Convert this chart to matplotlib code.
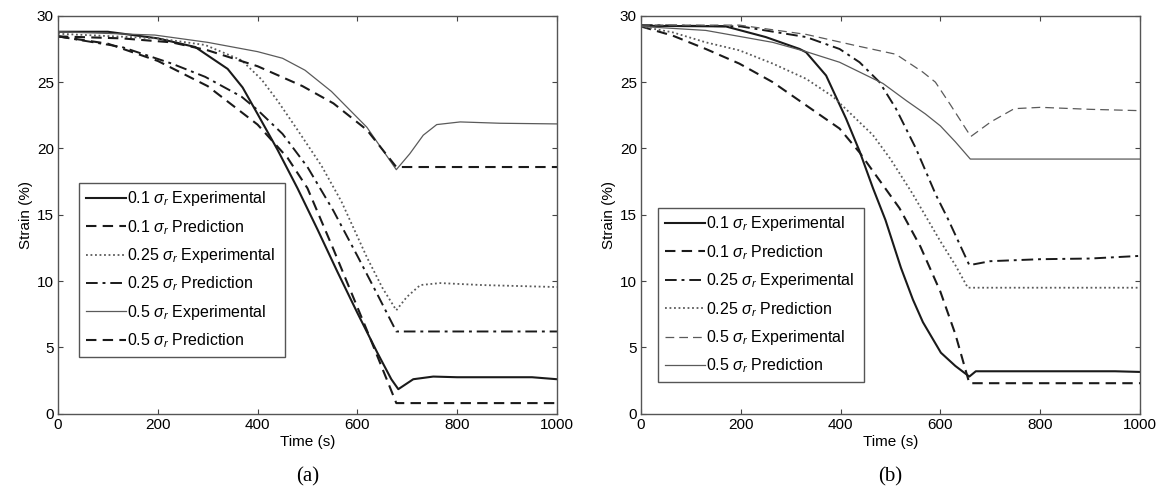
import matplotlib
matplotlib.use("Agg")
import matplotlib.pyplot as plt

plt.rcParams['font.family'] = ['Liberation Sans', 'DejaVu Sans']
plt.rcParams['mathtext.fontset'] = 'custom'
plt.rcParams['mathtext.rm'] = 'Liberation Sans'
plt.rcParams['mathtext.it'] = 'Liberation Sans:italic'

# ---- panel (a) ----
a_t_exp01 = [0, 100, 200, 275, 340, 370, 400, 440, 480, 520, 560, 600, 640, 668, 682, 712, 752, 800, 900, 950, 1000]
a_y_exp01 = [28.8, 28.8, 28.3, 27.65, 26.0, 24.6, 22.6, 19.9, 17.0, 13.9, 10.7, 7.6, 4.6, 2.6, 1.85, 2.6, 2.8, 2.75, 2.75, 2.75, 2.6]

a_t_pred01 = [0, 100, 200, 300, 400, 460, 500, 552, 619, 678, 1000]
a_y_pred01 = [28.45, 27.9, 26.6, 24.7, 21.8, 19.3, 17.0, 12.4, 6.3, 0.8, 0.8]

a_t_exp025 = [0, 200, 295, 368, 408, 440, 480, 528, 568, 619, 650, 678, 699, 726, 766, 850, 1000]
a_y_exp025 = [28.65, 28.3, 27.8, 26.65, 25.2, 23.6, 21.4, 18.7, 16.0, 11.8, 9.5, 7.8, 8.8, 9.7, 9.85, 9.7, 9.55]

a_t_pred025 = [0, 128, 228, 295, 368, 400, 450, 500, 552, 600, 640, 678, 1000]
a_y_pred025 = [28.45, 27.65, 26.4, 25.4, 23.9, 22.9, 21.1, 18.6, 15.3, 11.9, 9.0, 6.2, 6.2]

a_t_exp05 = [0, 194, 300, 400, 450, 495, 548, 619, 678, 705, 732, 759, 806, 886, 1000]
a_y_exp05 = [28.8, 28.55, 28.0, 27.3, 26.8, 25.9, 24.3, 21.6, 18.4, 19.6, 21.0, 21.8, 22.0, 21.9, 21.85]

a_t_pred05 = [0, 128, 228, 300, 400, 490, 552, 619, 678, 1000]
a_y_pred05 = [28.45, 28.3, 28.0, 27.4, 26.2, 24.7, 23.4, 21.4, 18.6, 18.6]

# ---- panel (b) ----
b_t_exp01 = [0, 170, 250, 318, 331, 371, 411, 438, 465, 490, 521, 545, 565, 601, 630, 658, 671, 950, 1000]
b_y_exp01 = [29.25, 29.2, 28.4, 27.5, 27.25, 25.5, 22.25, 19.8, 17.0, 14.6, 11.0, 8.6, 6.9, 4.6, 3.6, 2.8, 3.2, 3.2, 3.15]

b_t_pred01 = [0, 64, 130, 197, 264, 331, 398, 438, 478, 518, 560, 600, 630, 658, 1000]
b_y_pred01 = [29.2, 28.5, 27.5, 26.4, 25.0, 23.25, 21.5, 19.7, 17.6, 15.5, 12.6, 9.2, 6.0, 2.3, 2.3]

b_t_exp025 = [0, 200, 331, 398, 438, 478, 511, 551, 591, 615, 658, 700, 800, 900, 1000]
b_y_exp025 = [29.3, 29.2, 28.4, 27.5, 26.5, 25.0, 23.0, 20.0, 16.5, 14.7, 11.2, 11.5, 11.65, 11.7, 11.9]

b_t_pred025 = [0, 64, 130, 197, 264, 331, 385, 465, 500, 544, 600, 630, 655, 1000]
b_y_pred025 = [29.2, 28.75, 28.0, 27.4, 26.4, 25.25, 23.9, 21.0, 19.2, 16.6, 13.0, 11.2, 9.5, 9.5]

b_t_exp05 = [0, 197, 331, 431, 511, 565, 590, 620, 661, 701, 748, 801, 900, 1000]
b_y_exp05 = [29.3, 29.3, 28.6, 27.75, 27.1, 25.75, 25.0, 23.3, 20.9, 22.0, 23.0, 23.1, 22.95, 22.85]

b_t_pred05 = [0, 130, 264, 331, 398, 485, 532, 570, 600, 630, 660, 1000]
b_y_pred05 = [29.2, 28.9, 28.0, 27.3, 26.5, 24.9, 23.6, 22.6, 21.7, 20.5, 19.2, 19.2]

BLACK = '#1a1a1a'
GRAY = '#5a5a5a'

fig = plt.figure(figsize=(11.66, 4.90), dpi=100)
ax_a = fig.add_axes([0.0497, 0.1557, 0.428, 0.812])
ax_b = fig.add_axes([0.5497, 0.1557, 0.428, 0.812])

ax_a.plot(a_t_exp01, a_y_exp01, color=BLACK, lw=1.5, ls='-', label=r'0.1 $\sigma_r$ Experimental')
ax_a.plot(a_t_pred01, a_y_pred01, color=BLACK, lw=1.5, ls=(0, (5, 3)), label=r'0.1 $\sigma_r$ Prediction')
ax_a.plot(a_t_exp025, a_y_exp025, color=GRAY, lw=1.3, ls=(0, (1, 1.5)), label=r'0.25 $\sigma_r$ Experimental')
ax_a.plot(a_t_pred025, a_y_pred025, color=BLACK, lw=1.4, ls=(0, (6, 2.5, 1.5, 2.5)), label=r'0.25 $\sigma_r$ Prediction')
ax_a.plot(a_t_exp05, a_y_exp05, color=GRAY, lw=0.9, ls='-', label=r'0.5 $\sigma_r$ Experimental')
ax_a.plot(a_t_pred05, a_y_pred05, color=BLACK, lw=1.5, ls=(0, (5, 3)), label=r'0.5 $\sigma_r$ Prediction')

ax_b.plot(b_t_exp01, b_y_exp01, color=BLACK, lw=1.5, ls='-', label=r'0.1 $\sigma_r$ Experimental')
ax_b.plot(b_t_pred01, b_y_pred01, color=BLACK, lw=1.5, ls=(0, (5, 3)), label=r'0.1 $\sigma_r$ Prediction')
ax_b.plot(b_t_exp025, b_y_exp025, color=BLACK, lw=1.4, ls=(0, (6, 2.5, 1.5, 2.5)), label=r'0.25 $\sigma_r$ Experimental')
ax_b.plot(b_t_pred025, b_y_pred025, color=GRAY, lw=1.3, ls=(0, (1, 1.5)), label=r'0.25 $\sigma_r$ Prediction')
ax_b.plot(b_t_exp05, b_y_exp05, color=GRAY, lw=0.9, ls=(0, (7, 4)), label=r'0.5 $\sigma_r$ Experimental')
ax_b.plot(b_t_pred05, b_y_pred05, color=GRAY, lw=0.9, ls='-', label=r'0.5 $\sigma_r$ Prediction')

legend_boxes = {ax_a: (0.043, 0.137, 0.412, 0.443), ax_b: (0.035, 0.069, 0.412, 0.448)}

for ax, tag in ((ax_a, '(a)'), (ax_b, '(b)')):
    ax.set_xlim(0, 1000)
    ax.set_ylim(0, 30)
    ax.set_xticks(range(0, 1001, 200))
    ax.set_yticks(range(0, 31, 5))
    ax.tick_params(direction='in', length=3.5, width=0.8, top=True, right=True,
                   labelsize=11, color='#444444', pad=3)
    for sp in ax.spines.values():
        sp.set_color('#555555')
        sp.set_linewidth(1.0)
    ax.set_xlabel('Time (s)', fontsize=11, labelpad=2)
    ax.set_ylabel('Strain (%)', fontsize=11, labelpad=3)
    leg = ax.legend(loc='upper left', bbox_to_anchor=legend_boxes[ax], mode='expand',
                    fontsize=11.5, handlelength=2.5, handletextpad=0.05,
                    labelspacing=0.6, borderpad=0.4, borderaxespad=0,
                    fancybox=False, framealpha=1)
    leg.get_frame().set_edgecolor('#555555')
    leg.get_frame().set_linewidth(1.0)
    bb = ax.get_position()
    fig.text(bb.x0 + bb.width / 2, 0.027, tag, ha='center', va='center',
             fontsize=15, family='Liberation Serif')

fig.savefig('out.png', dpi=100)
